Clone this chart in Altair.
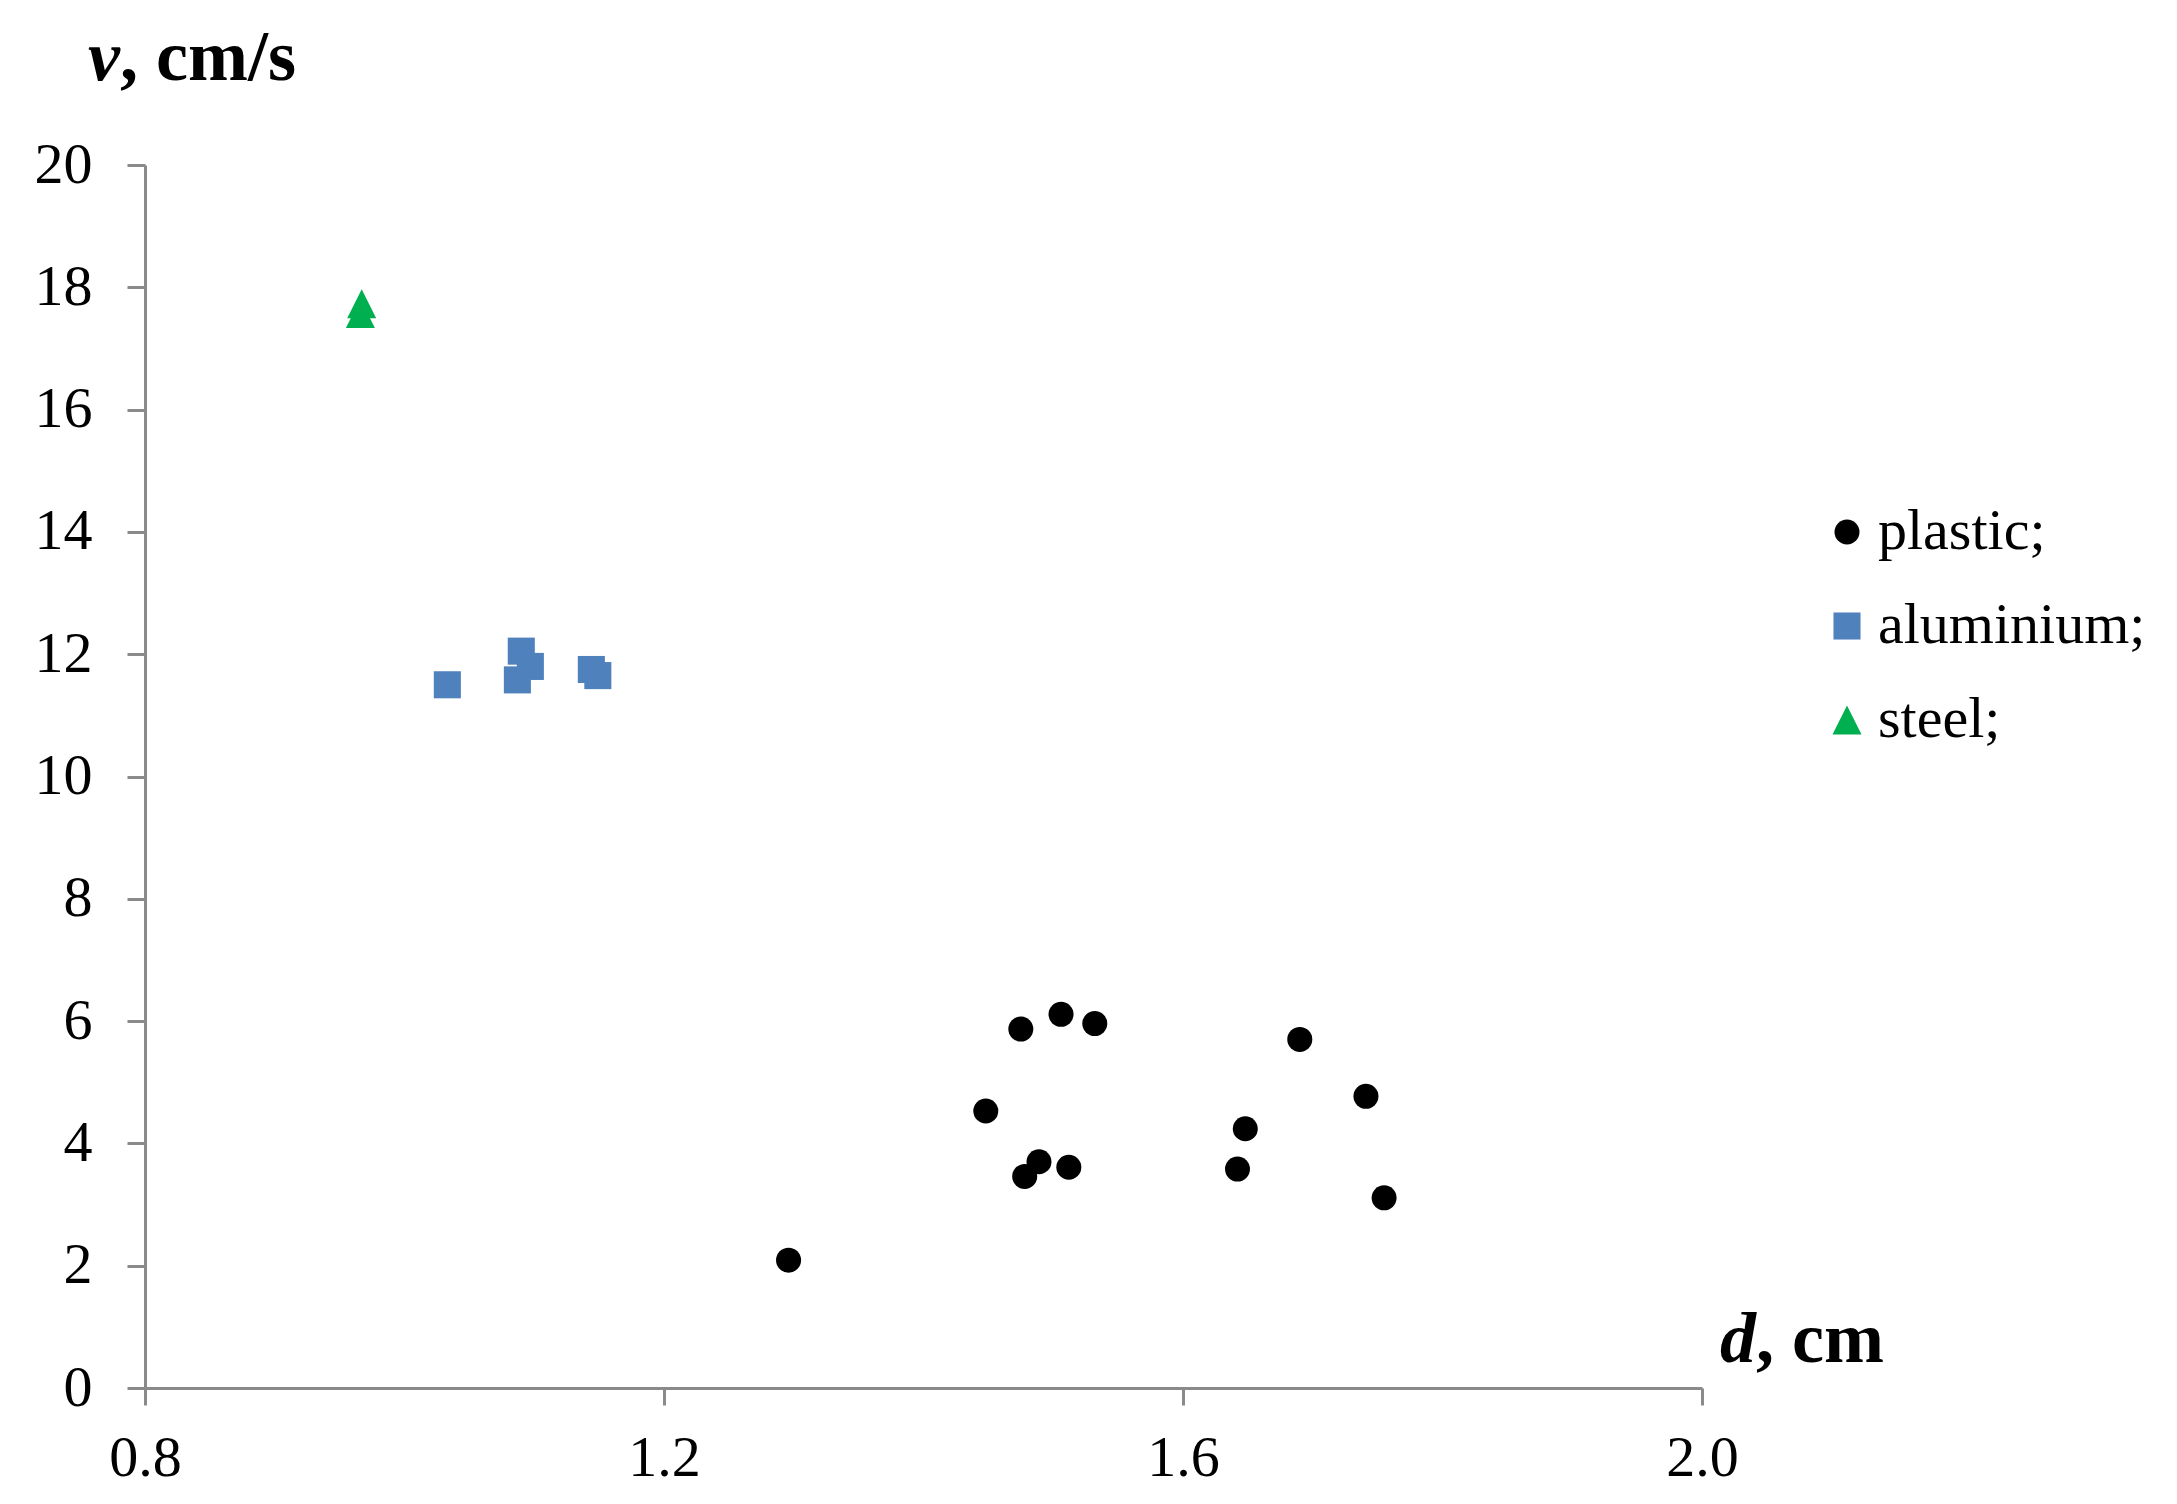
import altair as alt
import pandas as pd

# ---- data ----
plastic_d = [1.475, 1.506, 1.532, 1.690, 1.741, 1.448, 1.648, 1.489, 1.478, 1.512, 1.642, 1.755, 1.296]
plastic_v = [5.87, 6.11, 5.96, 5.70, 4.77, 4.53, 4.24, 3.70, 3.46, 3.61, 3.58, 3.11, 2.09]

aluminium_d = [1.033, 1.087, 1.090, 1.097, 1.144, 1.149]
aluminium_v = [11.50, 11.58, 12.05, 11.80, 11.75, 11.65]

steel_d = [0.967, 0.966]
steel_v = [17.73, 17.57]

materials = ["plastic;", "aluminium;", "steel;"]
colors = ["#000000", "#4F81BD", "#00B050"]
shapes = ["circle", "square", "M0,-1L1,1L-1,1Z"]
sizes = [625, 841, 729]

x_ticks = [0.8, 1.2, 1.6, 2.0]
y_ticks = [0, 2, 4, 6, 8, 10, 12, 14, 16, 18, 20]

rows = []
for name, ds, vs in [("plastic;", plastic_d, plastic_v),
                     ("aluminium;", aluminium_d, aluminium_v),
                     ("steel;", steel_d, steel_v)]:
    for d, v in zip(ds, vs):
        rows.append({"d": d, "v": v, "material": name})
df = pd.DataFrame(rows)

FONT = "Liberation Serif"
AXIS_GRAY = "#8A8A8A"

points = alt.Chart(df).mark_point(filled=True, opacity=1, strokeWidth=0).encode(
    x=alt.X("d:Q",
            scale=alt.Scale(domain=[0.8, 2.0], nice=False, zero=False),
            axis=alt.Axis(values=x_ticks, format=".1f", title=None, grid=False,
                          domainColor=AXIS_GRAY, domainWidth=3,
                          tickColor=AXIS_GRAY, tickWidth=3, tickSize=17,
                          labelFont=FONT, labelFontSize=58, labelColor="#000000",
                          labelPadding=24, labelFlush=False)),
    y=alt.Y("v:Q",
            scale=alt.Scale(domain=[0, 20], nice=False),
            axis=alt.Axis(values=y_ticks, title=None, grid=False,
                          domainColor=AXIS_GRAY, domainWidth=3,
                          tickColor=AXIS_GRAY, tickWidth=3, tickSize=18,
                          labelFont=FONT, labelFontSize=58, labelColor="#000000",
                          labelPadding=35)),
    color=alt.Color("material:N",
                    scale=alt.Scale(domain=materials, range=colors),
                    legend=alt.Legend(title=None, orient="none",
                                      legendX=1673, legendY=338,
                                      labelFont=FONT, labelFontSize=58,
                                      labelColor="#000000", labelLimit=0,
                                      symbolSize=650,
                                      symbolStrokeWidth=0, symbolOpacity=1,
                                      rowPadding=36, labelOffset=2, padding=0)),
    shape=alt.Shape("material:N",
                    scale=alt.Scale(domain=materials, range=shapes)),
    size=alt.Size("material:N",
                  scale=alt.Scale(domain=materials, range=sizes),
                  legend=None),
    order=alt.Order("material:N"),
)

def label(text, x, y, italic):
    return alt.Chart(pd.DataFrame({"t": [text]})).mark_text(
        font=FONT, fontSize=72, fontWeight="bold",
        fontStyle="italic" if italic else "normal",
        align="left", baseline="alphabetic", color="#000000",
    ).encode(text="t:N", x=alt.value(x), y=alt.value(y))

titles = [
    label("v", -57, -85, True),
    label(", cm/s", -25, -85, False),
    label("d", 1575, 1197, True),
    label(", cm", 1611, 1197, False),
]

chart = alt.layer(points, *titles).properties(
    width=1557,
    height=1223,
    autosize=alt.AutoSizeParams(type="none"),
    padding={"left": 137, "top": 157, "right": 467, "bottom": 108},
    background="white",
).configure_view(stroke=None)

chart.save("out.html", embed_options={"renderer": "svg", "actions": False})
